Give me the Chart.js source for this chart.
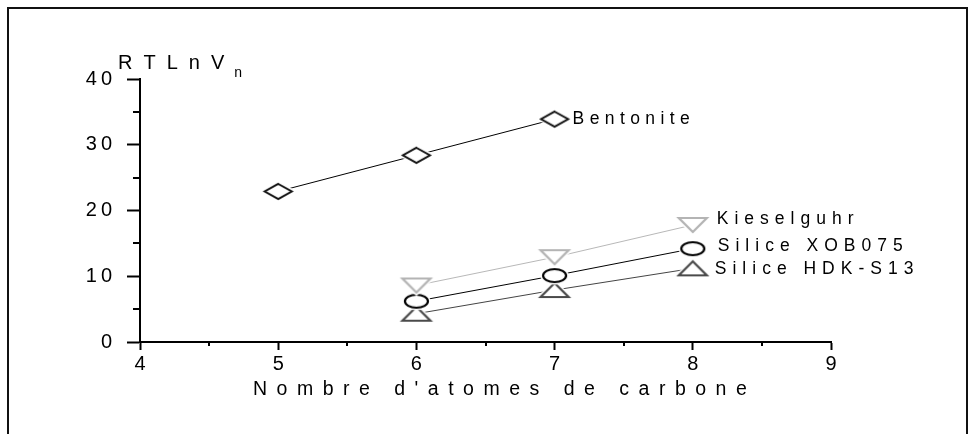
<!DOCTYPE html>
<html lang="fr">
<head>
<meta charset="utf-8">
<title>RTLnVn en fonction du nombre d'atomes de carbone</title>
<script src="https://cdn.jsdelivr.net/npm/chart.js@4.4.1/dist/chart.umd.min.js"></script>
<style>
    html, body { margin: 0; padding: 0; background: #fff; }
    #wrap { position: relative; width: 975px; height: 434px; }
</style>
</head>
<body>
<div id="wrap"><canvas id="rtlnChart" width="975" height="434"></canvas></div>
<script>
// Nombre d'atomes de carbone des sondes injectées
const carbonesBentonite = [5, 6, 7];
const carbonesSilices   = [6, 7, 8];

// RTLnVn mesuré sur chaque support
const bentonite    = [22.9, 28.4, 33.9];
const kieselguhr   = [8.6, 12.9, 17.8];
const siliceXOB075 = [6.2, 10.1, 14.2];
const siliceHDKS13 = [4.3, 7.9, 11.2];

// Graduations
const xTicks = [4, 5, 6, 7, 8, 9];
const yTicks = [0, 10, 20, 30, 40];
const xMinor = [4.5, 5.5, 6.5, 7.5, 8.5];
const yMinor = [5, 15, 25, 35];

const FONT = '"Liberation Sans", Arial, sans-serif';

// Symboles creux dessinés une fois sur un petit canvas
function marqueur(forme, w, h, couleur, epaisseur) {
    const pad = 4;
    const c = document.createElement("canvas");
    c.width = w + pad * 2;
    c.height = h + pad * 2;
    const g = c.getContext("2d");
    const cx = c.width / 2, cy = c.height / 2;
    g.beginPath();
    if (forme === "losange") {
        g.moveTo(cx, cy - h / 2); g.lineTo(cx + w / 2, cy);
        g.lineTo(cx, cy + h / 2); g.lineTo(cx - w / 2, cy);
        g.closePath();
    } else if (forme === "cercle") {
        g.ellipse(cx, cy, w / 2, h / 2, 0, 0, Math.PI * 2);
    } else if (forme === "bas") {
        g.moveTo(cx - w / 2, cy - h / 2); g.lineTo(cx + w / 2, cy - h / 2);
        g.lineTo(cx, cy + h / 2);
        g.closePath();
    } else {
        g.moveTo(cx, cy - h / 2); g.lineTo(cx + w / 2, cy + h / 2);
        g.lineTo(cx - w / 2, cy + h / 2);
        g.closePath();
    }
    // petit halo blanc : la ligne s'arrête avant le symbole
    g.strokeStyle = "#fff";
    g.lineWidth = epaisseur + 3;
    g.stroke();
    g.fillStyle = "#fff";
    g.fill();
    g.strokeStyle = couleur;
    g.lineWidth = epaisseur;
    g.stroke();
    return c;
}

function points(xs, ys) {
    return xs.map((x, i) => ({ x, y: ys[i] }));
}

// Texte espacé lettre par lettre
function texteEspace(ctx, texte, x, y, espace) {
    let cur = x;
    for (const ch of texte) {
        ctx.fillText(ch, cur, y);
        cur += ctx.measureText(ch).width + espace;
    }
    return cur;
}

const cadre = {
    id: "cadre",
    beforeDraw(chart) {
        const ctx = chart.ctx;
        ctx.save();
        ctx.fillStyle = "#fff";
        ctx.fillRect(0, 0, chart.width, chart.height);
        ctx.strokeStyle = "#111";
        ctx.lineWidth = 2;
        ctx.strokeRect(8, 8, 959, 460);
        ctx.restore();
    }
};

// Graduations secondaires, plus courtes
const petitesGraduations = {
    id: "petitesGraduations",
    afterDraw(chart) {
        const { ctx, scales: { x, y } } = chart;
        ctx.save();
        ctx.strokeStyle = "#000";
        ctx.lineWidth = 2;
        ctx.beginPath();
        xMinor.forEach(v => {
            const px = Math.round(x.getPixelForValue(v));
            ctx.moveTo(px, y.bottom); ctx.lineTo(px, y.bottom + 4);
        });
        yMinor.forEach(v => {
            const py = Math.round(y.getPixelForValue(v));
            ctx.moveTo(x.left, py); ctx.lineTo(x.left - 7, py);
        });
        ctx.stroke();
        ctx.restore();
    }
};

// Titres des axes et noms des séries
const textes = {
    id: "textes",
    afterDatasetsDraw(chart) {
        const { ctx, chartArea } = chart;
        ctx.save();
        ctx.fillStyle = "#000";

        ctx.font = "17.5px " + FONT;
        ctx.textBaseline = "middle";
        chart.data.datasets.forEach((ds, i) => {
            const pts = chart.getDatasetMeta(i).data;
            const p = pts[pts.length - 1];
            texteEspace(ctx, ds.label, p.x + ds.decalage[0], p.y + ds.decalage[1], ds.espacement);
        });

        ctx.textBaseline = "alphabetic";
        ctx.font = "20px " + FONT;
        const fin = texteEspace(ctx, "RTLnV", chartArea.left - 22, chartArea.top - 10, 11);
        ctx.font = "14px " + FONT;
        ctx.fillText("n", fin - 1, chartArea.top - 2);

        ctx.font = "19.5px " + FONT;
        texteEspace(ctx, "Nombre d'atomes de carbone", chartArea.left + 113, 395, 9.5);
        ctx.restore();
    }
};

const ctxChart = document.getElementById("rtlnChart");
new Chart(ctxChart, {
    type: "line",
    data: {
        datasets: [
            {
                label: "Bentonite",
                data: points(carbonesBentonite, bentonite),
                borderColor: "#000",
                borderWidth: 1,
                pointStyle: marqueur("losange", 27, 15, "#111", 2),
                decalage: [18, 0],
                espacement: 5.4
            },
            {
                label: "Kieselguhr",
                data: points(carbonesSilices, kieselguhr),
                borderColor: "#b8b8b8",
                borderWidth: 1,
                pointStyle: marqueur("bas", 28, 14, "#b4b4b4", 2.2),
                decalage: [24, -6],
                espacement: 6
            },
            {
                label: "Silice XOB075",
                data: points(carbonesSilices, siliceXOB075),
                borderColor: "#000",
                borderWidth: 1,
                pointStyle: marqueur("cercle", 23, 13, "#000", 2.2),
                decalage: [25, -2],
                espacement: 6
            },
            {
                label: "Silice HDK-S13",
                data: points(carbonesSilices, siliceHDKS13),
                borderColor: "#444",
                borderWidth: 1,
                pointStyle: marqueur("haut", 28, 14, "#4a4a4a", 2.2),
                decalage: [22, 1],
                espacement: 6
            }
        ]
    },
    options: {
        responsive: false,
        animation: false,
        devicePixelRatio: 1,
        layout: { padding: { top: 79, right: 144, left: 0, bottom: 0 } },
        plugins: {
            legend: { display: false },
            tooltip: { enabled: false }
        },
        elements: { line: { tension: 0 } },
        scales: {
            x: {
                type: "linear",
                min: 4,
                max: 9,
                afterBuildTicks: s => { s.ticks = xTicks.map(v => ({ value: v })); },
                afterFit: s => { s.height = 92; },
                border: { color: "#000", width: 2 },
                grid: { drawOnChartArea: false, tickLength: 8, tickWidth: 2, tickColor: "#000" },
                ticks: { color: "#000", padding: 2, font: { family: FONT, size: 20 } }
            },
            y: {
                type: "linear",
                min: 0,
                max: 40,
                afterBuildTicks: s => { s.ticks = yTicks.map(v => ({ value: v })); },
                afterFit: s => { s.width = 140; },
                border: { color: "#000", width: 2 },
                grid: { drawOnChartArea: false, tickLength: 13, tickWidth: 2, tickColor: "#000" },
                ticks: {
                    color: "#000",
                    padding: 15,
                    font: { family: FONT, size: 20 },
                    callback: v => String(v).split("").join("\u2009")
                }
            }
        }
    },
    plugins: [cadre, petitesGraduations, textes]
});
</script>
</body>
</html>
